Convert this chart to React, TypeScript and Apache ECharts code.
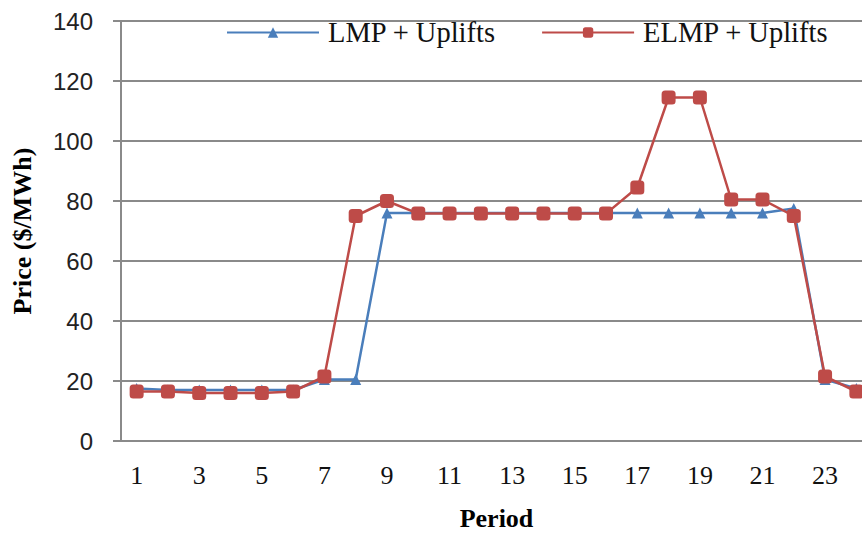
import React, { useEffect, useRef } from "react";
import * as echarts from "echarts";

const periods = ["1","2","3","4","5","6","7","8","9","10","11","12","13","14","15","16","17","18","19","20","21","22","23","24"];
const lmpUplifts = [17.5,17,17,17,17,17,20.5,20.5,76,76,76,76,76,76,76,76,76,76,76,76,76,77.5,20.5,17.5];
const elmpUplifts = [16.5,16.5,16,16,16,16.5,21.5,75,80,75.8,75.8,75.8,75.8,75.8,75.8,75.8,84.5,114.5,114.5,80.5,80.5,75,21.5,16.5];
const seriesNames = ["LMP + Uplifts", "ELMP + Uplifts"];

const BLUE = "#4A7EBB";
const RED = "#BE4B48";
const GRID = "#8a8a8a";
const SERIF = "'Liberation Serif', 'Times New Roman', serif";
const SANS = "'Liberation Sans', Arial, sans-serif";

export default function App() {
  const ref = useRef<HTMLDivElement>(null);
  useEffect(() => {
    if (!ref.current) return;
    const chart = echarts.init(ref.current, undefined, { renderer: "svg" });
    chart.setOption({
      animation: false,
      backgroundColor: "#ffffff",
      grid: { left: 121, right: 0, top: 21, bottom: 92, containLabel: false, outerBoundsMode: "none" },
      legend: {
        left: 221,
        top: 13,
        itemWidth: 92,
        itemHeight: 13,
        itemGap: 45,
        data: seriesNames,
        textStyle: { fontFamily: SERIF, fontSize: 28.5, color: "#111", padding: [0, 0, 0, 4] },
      },
      xAxis: {
        type: "category",
        data: periods,
        boundaryGap: true,
        name: "Period",
        nameLocation: "middle",
        nameGap: 64,
        nameTextStyle: { fontFamily: SERIF, fontSize: 26, fontWeight: "bold", color: "#000" },
        axisLine: { lineStyle: { color: GRID, width: 2 } },
        axisTick: { show: false },
        axisLabel: { interval: 1, fontFamily: SERIF, fontSize: 26, color: "#111", margin: 21 },
        splitLine: { show: false },
      },
      yAxis: {
        type: "value",
        min: 0,
        max: 140,
        interval: 20,
        name: "Price ($/MWh)",
        nameLocation: "middle",
        nameGap: 86,
        nameTextStyle: { fontFamily: SERIF, fontSize: 26, fontWeight: "bold", color: "#000" },
        axisLine: { show: true, lineStyle: { color: GRID, width: 2 } },
        axisTick: { show: true, length: 8, lineStyle: { color: GRID, width: 2 } },
        axisLabel: { fontFamily: SANS, fontSize: 24, color: "#222", margin: 28 },
        splitLine: { show: true, lineStyle: { color: GRID, width: 2 } },
      },
      series: [
        {
          name: seriesNames[0],
          type: "line",
          data: lmpUplifts,
          symbol: "triangle",
          symbolSize: 11,
          itemStyle: { color: BLUE },
          lineStyle: { color: BLUE, width: 2.5 },
          z: 2,
        },
        {
          name: seriesNames[1],
          type: "line",
          data: elmpUplifts,
          symbol: "roundRect",
          symbolSize: 14,
          itemStyle: { color: RED },
          lineStyle: { color: RED, width: 2.5 },
          z: 3,
        },
      ],
    });
    return () => chart.dispose();
  }, []);
  return (
    <div
      style={{ position: "fixed", left: 0, top: 0, width: 862, height: 533, overflow: "hidden", background: "#fff" }}
    >
      <div ref={ref} style={{ width: 872, height: 533 }} />
    </div>
  );
}
